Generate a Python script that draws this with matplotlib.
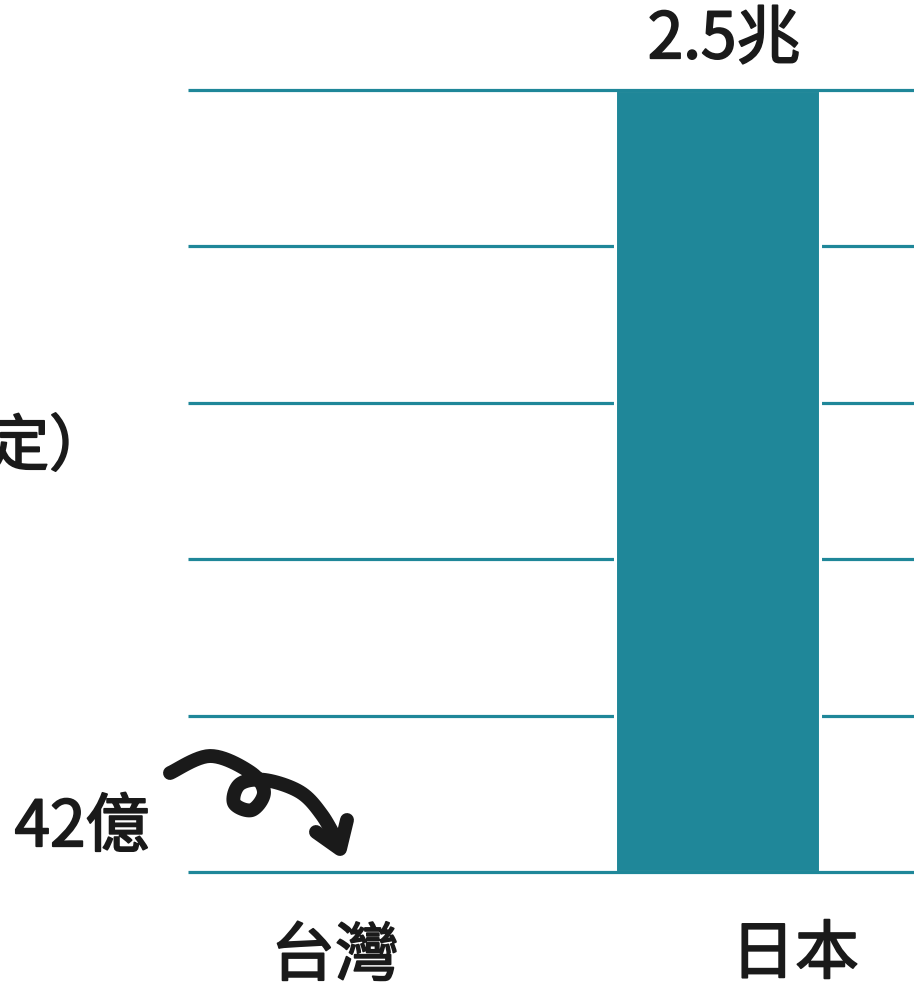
import numpy as np
import matplotlib
matplotlib.use("Agg")
import matplotlib.pyplot as plt
import matplotlib.patheffects as pe

plt.rcParams['font.family'] = ['Noto Sans CJK TC', 'DejaVu Sans']

# data (units: 兆)
categories = ["台灣", "日本"]
values = [0.0042, 2.5]
value_labels = ["42億", "2.5兆"]
gridlevels = [0, 0.5, 1.0, 1.5, 2.0, 2.5]

TEAL = "#1f8799"
TXT = "#1a1a1a"
W, H = 914, 990
FS = 46
thick = [pe.withStroke(linewidth=1.3, foreground=TXT)]
fig = plt.figure(figsize=(W / 100, H / 100), dpi=100)

ax_l, ax_r, ax_b, ax_t = 188, 914, 872, 90
ax = fig.add_axes([ax_l / W, 1 - ax_b / H, (ax_r - ax_l) / W, (ax_b - ax_t) / H])
ax.set_xlim(-0.3843, 1.5136)
ax.set_ylim(0, 2.5)
ax.axis("off")

x = np.arange(len(categories))
bar_w = 0.536

for g in gridlevels:
    z = 3 if g in (0, 2.5) else 1
    ax.axhline(g, color=TEAL, lw=2.3, zorder=z, clip_on=False, solid_capstyle="butt")

ax.bar(x, values, width=bar_w, color=TEAL, edgecolor="white", linewidth=2.2,
       joinstyle="round", zorder=2)

def label(px_x, px_y, s, ha="center", fs=FS):
    fig.text(px_x / W, 1 - px_y / H, s, ha=ha, va="center", fontsize=fs,
             color=TXT, path_effects=thick)

# Japan value label above bar
label(724, 40, value_labels[1])
# category labels
label(335, 957, categories[0])
label(795, 955, categories[1])
# Taiwan value label
label(82, 828, value_labels[0])
# cut-off annotation text (cut at the left edge in the original too)
label(-12, 448, "定）", ha="left", fs=44)

# hand-drawn arrow (decoration)
pts = [(170, 773), (210, 756), (250, 772), (264, 792), (252, 810),
       (234, 803), (240, 784), (265, 780), (300, 792), (322, 815), (339, 845)]
pts = np.array(pts, float)
P = np.vstack([pts[0], pts, pts[-1]])
curve = []
for i in range(1, len(P) - 2):
    p0, p1, p2, p3 = P[i - 1], P[i], P[i + 1], P[i + 2]
    for t in np.linspace(0, 1, 12, endpoint=False):
        t2, t3 = t * t, t * t * t
        c = 0.5 * ((2 * p1) + (-p0 + p2) * t + (2 * p0 - 5 * p1 + 4 * p2 - p3) * t2
                   + (-p0 + 3 * p1 - 3 * p2 + p3) * t3)
        curve.append(c)
curve.append(pts[-1])
curve = np.array(curve)
fig.add_artist(plt.Line2D(curve[:, 0] / W, 1 - curve[:, 1] / H, color=TXT, lw=10,
                          solid_capstyle="round", solid_joinstyle="round"))
head = np.array([(316, 832), (340, 849), (347, 820)])
fig.add_artist(plt.Line2D(head[:, 0] / W, 1 - head[:, 1] / H, color=TXT, lw=10,
                          solid_capstyle="round", solid_joinstyle="round"))

fig.savefig("out.png", dpi=100, facecolor="white")
